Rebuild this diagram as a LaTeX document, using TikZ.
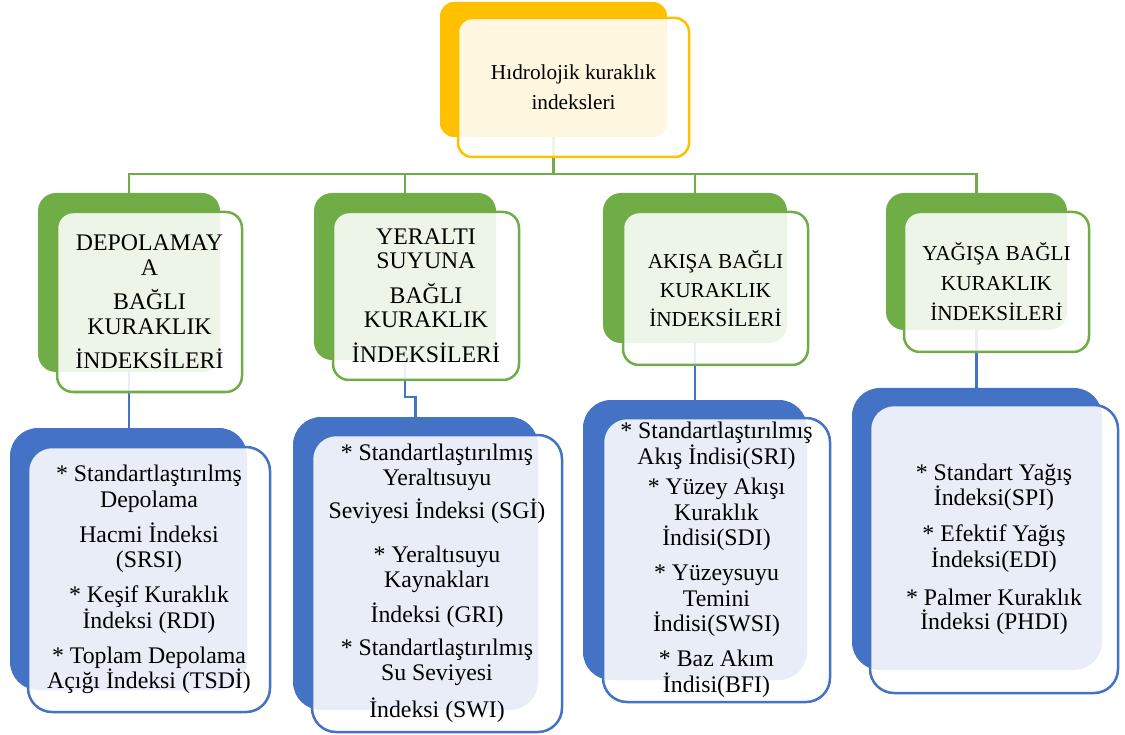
\documentclass[tikz,border=0pt]{standalone}
\usepackage{fontspec}
\setmainfont{Liberation Serif}
\usetikzlibrary{calc}
\definecolor{HGold}{RGB}{255,192,0}
\definecolor{HGreen}{RGB}{112,173,71}
\definecolor{HBlue}{RGB}{68,114,196}
\tikzset{
	backbox/.style={fill=#1, inner sep=0pt},
	frontbox/.style={draw=#1, line width=2.5pt, fill=white, fill opacity=0.88,
		text opacity=1, inner sep=0pt, align=center},
	gline/.style={draw=HGreen, line width=2.5pt},
	bline/.style={draw=HBlue, line width=2.5pt},
	midtxt/.style={font=\fontsize{21.3}{30}\selectfont},
	bigtxt/.style={font=\fontsize{23.8}{25.5}\selectfont}
}

\begin{document}
\begin{tikzpicture}[x=1pt, y=-1pt]
		\useasboundingbox (0,0) rectangle (1125,735);
		% solid back plates
		\node[backbox=HGold, minimum width=227pt, minimum height=135pt, rounded corners=14pt] (topb) at (553.5,69.5) {};
		\node[backbox=HGreen, minimum width=182pt, minimum height=179pt, rounded corners=18pt] (g1b) at (129,282.5) {};
		\node[backbox=HGreen, minimum width=182pt, minimum height=167pt, rounded corners=18pt] (g2b) at (405,276.5) {};
		\node[backbox=HGreen, minimum width=184pt, minimum height=150pt, rounded corners=18pt] (g3b) at (695,268) {};
		\node[backbox=HGreen, minimum width=181pt, minimum height=137pt, rounded corners=18pt] (g4b) at (976.5,261.5) {};
		\node[backbox=HBlue, minimum width=237pt, minimum height=262pt, rounded corners=28pt] (b1b) at (128.5,559) {};
		\node[backbox=HBlue, minimum width=245pt, minimum height=293pt, rounded corners=28pt] (b2b) at (415.5,563.5) {};
		\node[backbox=HBlue, minimum width=224pt, minimum height=280pt, rounded corners=28pt] (b3b) at (695,540) {};
		\node[backbox=HBlue, minimum width=250pt, minimum height=282pt, rounded corners=28pt] (b4b) at (977,529) {};
		% connectors
		\coordinate (bus) at (553.5,174);
		\draw[gline] (topb.south) -- (bus) -| (g1b.north);
		\draw[gline] (bus) -| (g2b.north);
		\draw[gline] (bus) -| (g3b.north);
		\draw[gline] (bus) -| (g4b.north);
		\draw[bline] (g1b.south) -- (g1b.south |- b1b.north);
		\draw[bline] (g2b.south) -- ++(0,37) -| (b2b.north);
		\draw[bline] (g3b.south) -- (g3b.south |- b3b.north);
		\draw[bline] (g4b.south) -- (g4b.south |- b4b.north);
		% front boxes
		\node[frontbox=HGold, midtxt, minimum width=231pt, minimum height=139pt, rounded corners=14pt] (top) at (573.5,87.5)
		{Hıdrolojik kuraklık\\indeksleri};
		\node[frontbox=HGreen, font=\fontsize{23.8}{25}\selectfont, minimum width=185pt, minimum height=180pt, rounded corners=16pt] (g1) at (149.5,302)
		{DEPOLAMAY\\A\\[9pt]BAĞLI\\KURAKLIK\\[9pt]İNDEKSİLERİ};
		\node[frontbox=HGreen, font=\fontsize{23.8}{24}\selectfont, minimum width=186pt, minimum height=168pt, rounded corners=16pt] (g2) at (426,296)
		{YERALTI\\SUYUNA\\[11pt]BAĞLI\\KURAKLIK\\[11pt]İNDEKSİLERİ};
		\node[frontbox=HGreen, font=\fontsize{21.3}{29}\selectfont, minimum width=185pt, minimum height=153pt, rounded corners=16pt] (g3) at (715.5,288.5)
		{AKIŞA BAĞLI\\KURAKLIK\\İNDEKSİLERİ};
		\node[frontbox=HGreen, midtxt, minimum width=185pt, minimum height=140pt, rounded corners=16pt] (g4) at (996.5,282)
		{YAĞIŞA BAĞLI\\KURAKLIK\\İNDEKSİLERİ};
		\node[frontbox=HBlue, bigtxt, minimum width=242pt, minimum height=265pt, rounded corners=24pt] (b1) at (149,579.5)
		{* Standartlaştırılmş\\Depolama\\[9.5pt]Hacmi İndeksi\\(SRSI)\\[9.5pt]* Keşif Kuraklık\\İndeksi (RDI)\\[9.5pt]* Toplam Depolama\\Açığı İndeksi (TSDİ)};
		\node[frontbox=HBlue, font=\fontsize{23.8}{25}\selectfont, minimum width=250pt, minimum height=297pt, rounded corners=24pt] (b2) at (437,583.5)
		{* Standartlaştırılmış\\Yeraltısuyu\\[8pt]Seviyesi İndeksi (SGİ)\\[19pt]* Yeraltısuyu\\Kaynakları\\[10pt]İndeksi (GRI)\\[8pt]* Standartlaştırılmış\\Su Seviyesi\\[12pt]İndeksi (SWI)};
		\node[frontbox=HBlue, bigtxt, minimum width=227pt, minimum height=284pt, rounded corners=24pt] (b3) at (716.5,560)
		{* Standartlaştırılmış\\Akış İndisi(SRI)\\[5pt]* Yüzey Akışı\\Kuraklık\\İndisi(SDI)\\[9.5pt]* Yüzeysuyu\\Temini\\İndisi(SWSI)\\[9.5pt]* Baz Akım\\İndisi(BFI)};
		\node[frontbox=HBlue, font=\fontsize{23.8}{23.5}\selectfont, minimum width=248pt, minimum height=288pt, rounded corners=24pt] (b4) at (994,549)
		{* Standart Yağış\\İndeksi(SPI)\\[12pt]* Efektif Yağış\\İndeksi(EDI)\\[15pt]* Palmer Kuraklık\\İndeksi (PHDI)};
	\end{tikzpicture}
\end{document}
